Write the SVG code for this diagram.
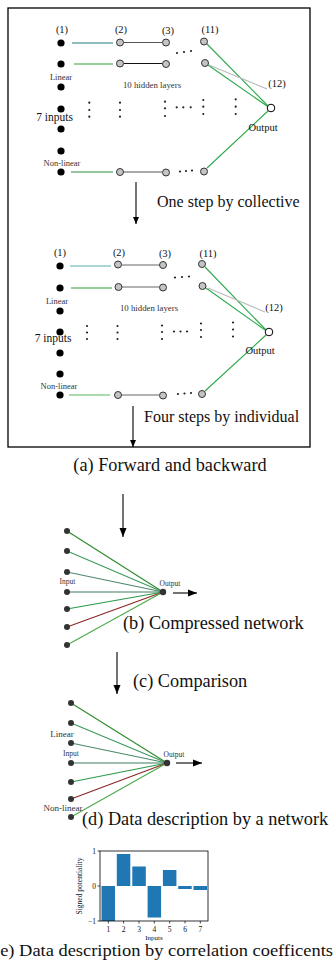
<svg xmlns="http://www.w3.org/2000/svg" width="334" height="962" viewBox="0 0 334 962">
<defs>
<style>
text{font-family:"Liberation Serif","Times New Roman",serif;fill:#111}
.in{fill:#000}
.hid{fill:#c4c4c4;stroke:#333;stroke-width:1}
.out{fill:#fff;stroke:#000;stroke-width:1}
.dn{fill:#333}
.dot{fill:#222}
.ln{fill:none;stroke-width:1.1}
.arr{stroke:#000;stroke-width:1.1;fill:none}
.lbl{font-size:10.5px;text-anchor:middle}
.sm{font-size:8.5px;text-anchor:middle;fill:#333}
.hl{font-size:8.8px;text-anchor:middle;fill:#333}
.cap{font-size:18.3px}
.bar{fill:#1f77b4}
</style>
<marker id="ah" markerWidth="8" markerHeight="8" refX="7" refY="4" orient="auto" markerUnits="userSpaceOnUse">
<path d="M0,1 L7,4 L0,7 Z" fill="#000"/>
</marker>
<marker id="ah2" markerWidth="10" markerHeight="8" refX="9" refY="4" orient="auto" markerUnits="userSpaceOnUse">
<path d="M0,0.5 L9,4 L0,7.5 Z" fill="#000"/>
</marker>
</defs>

<rect x="8" y="8" width="302" height="439" fill="none" stroke="#000" stroke-width="1.3"/>

<g id="connectors">
<!-- panel 1 -->
<line class="ln" x1="72" y1="43" x2="113" y2="43" stroke="#1f7f7f"/>
<line class="ln" x1="124" y1="42.5" x2="162" y2="42.5" stroke="#555"/>
<line class="ln" x1="74" y1="64" x2="113" y2="64" stroke="#33a033"/>
<line class="ln" x1="124" y1="63.5" x2="162" y2="63.5" stroke="#111"/>
<line class="ln" x1="71" y1="172" x2="113" y2="172" stroke="#2a8a3a"/>
<line class="ln" x1="124" y1="172" x2="162" y2="172" stroke="#555"/>
<line class="ln" x1="207" y1="44" x2="268" y2="106" stroke="#2aa84a"/>
<line class="ln" x1="208" y1="65" x2="267" y2="106" stroke="#2aa84a"/>
<line class="ln" x1="209" y1="65" x2="267" y2="89" stroke="#bbb"/>
<line class="ln" x1="207" y1="168" x2="268" y2="111" stroke="#2aa84a"/>
<line class="arr" x1="136" y1="182" x2="136" y2="224" marker-end="url(#ah)"/>
<!-- panel 2 -->
<line class="ln" x1="70" y1="266" x2="111" y2="266" stroke="#5aacac"/>
<line class="ln" x1="122" y1="265" x2="159" y2="265" stroke="#666"/>
<line class="ln" x1="71" y1="288" x2="112" y2="288" stroke="#2e9e2e"/>
<line class="ln" x1="122" y1="287" x2="159" y2="287" stroke="#666"/>
<line class="ln" x1="69" y1="395" x2="110" y2="395" stroke="#5ab85a"/>
<line class="ln" x1="122" y1="395" x2="159" y2="395" stroke="#666"/>
<line class="ln" x1="205" y1="267" x2="266" y2="330" stroke="#2aa84a"/>
<line class="ln" x1="206" y1="288" x2="265" y2="330" stroke="#2aa84a"/>
<line class="ln" x1="208" y1="288" x2="265" y2="312" stroke="#bbb"/>
<line class="ln" x1="205" y1="391" x2="266" y2="335" stroke="#2aa84a"/>
<line class="arr" x1="133" y1="406" x2="133" y2="447" marker-end="url(#ah)"/>
<!-- arrow to (b) -->
<line class="arr" x1="123" y1="494" x2="123" y2="537" marker-end="url(#ah2)"/>
<!-- network b -->
<line class="ln" x1="67" y1="531" x2="163" y2="592" stroke="#2a8a2a"/>
<line class="ln" x1="67" y1="551" x2="163" y2="592" stroke="#3a9a5a"/>
<line class="ln" x1="67" y1="572" x2="163" y2="592" stroke="#4a8a6a" stroke-width="1.4"/>
<line class="ln" x1="67" y1="592" x2="163" y2="592" stroke="#3d7d5d" stroke-width="2"/>
<line class="ln" x1="67" y1="609" x2="163" y2="592" stroke="#2a9a4a" stroke-width="1.4"/>
<line class="ln" x1="67" y1="627" x2="163" y2="592" stroke="#8b2525" stroke-width="1.3"/>
<line class="ln" x1="67" y1="645" x2="163" y2="592" stroke="#4aaa4a"/>
<line class="arr" x1="173" y1="593" x2="197" y2="593" marker-end="url(#ah2)"/>
<!-- arrow to (d) -->
<line class="arr" x1="117" y1="652" x2="117" y2="694" marker-end="url(#ah2)"/>
<!-- network d -->
<line class="ln" x1="71" y1="703" x2="167" y2="763" stroke="#2a8a2a"/>
<line class="ln" x1="71" y1="723" x2="167" y2="763" stroke="#3a9a5a"/>
<line class="ln" x1="71" y1="743" x2="167" y2="763" stroke="#4a8a6a" stroke-width="1.4"/>
<line class="ln" x1="71" y1="763" x2="167" y2="763" stroke="#3d7d5d" stroke-width="2"/>
<line class="ln" x1="71" y1="782" x2="167" y2="763" stroke="#2a9a4a" stroke-width="1.4"/>
<line class="ln" x1="71" y1="799" x2="167" y2="763" stroke="#8b2525" stroke-width="1.3"/>
<line class="ln" x1="71" y1="817" x2="167" y2="763" stroke="#4aaa4a"/>
<line class="arr" x1="176" y1="763" x2="202" y2="763" marker-end="url(#ah2)"/>
</g>

<g id="panel1-nodes">
<g id="p1-inputs">
<circle class="in" cx="61" cy="43" r="3.6"/>
<circle class="in" cx="61" cy="64" r="3.6"/>
<circle class="in" cx="61" cy="87" r="3.6"/>
<circle class="in" cx="61" cy="109" r="3.6"/>
<circle class="in" cx="61" cy="129" r="3.6"/>
<circle class="in" cx="61" cy="151" r="3.6"/>
<circle class="in" cx="61" cy="172" r="3.6"/>
</g>
<g id="p1-hidden">
<circle class="hid" cx="120" cy="42.5" r="3.5"/>
<circle class="hid" cx="120" cy="63.5" r="3.5"/>
<circle class="hid" cx="120" cy="172" r="3.5"/>
<circle class="hid" cx="166" cy="42.5" r="3.5"/>
<circle class="hid" cx="166" cy="64" r="3.5"/>
<circle class="hid" cx="166" cy="172.5" r="3.5"/>
<circle class="hid" cx="204" cy="41.5" r="3.5"/>
<circle class="hid" cx="205" cy="63" r="3.5"/>
<circle class="hid" cx="204" cy="171.5" r="3.5"/>
</g>
<g id="p1-output"><circle class="out" cx="271" cy="108" r="3.8"/></g>
<g id="p1-dots">
<circle class="dot" cx="177" cy="53" r="1.1"/><circle class="dot" cx="184" cy="52" r="1.1"/><circle class="dot" cx="191" cy="51" r="1.1"/>
<circle class="dot" cx="180" cy="171.5" r="1.1"/><circle class="dot" cx="186" cy="171" r="1.1"/><circle class="dot" cx="192" cy="170.5" r="1.1"/>
<circle class="dot" cx="89.3" cy="102.7" r="1.1"/><circle class="dot" cx="89.3" cy="110" r="1.1"/><circle class="dot" cx="89.3" cy="116.7" r="1.1"/>
<circle class="dot" cx="120" cy="102.7" r="1.1"/><circle class="dot" cx="120" cy="110" r="1.1"/><circle class="dot" cx="120" cy="116.7" r="1.1"/>
<circle class="dot" cx="165" cy="101.7" r="1.1"/><circle class="dot" cx="165" cy="108.3" r="1.1"/><circle class="dot" cx="165" cy="116" r="1.1"/>
<circle class="dot" cx="176.7" cy="107.3" r="1.1"/><circle class="dot" cx="183.3" cy="107.3" r="1.1"/><circle class="dot" cx="190.7" cy="107.3" r="1.1"/>
<circle class="dot" cx="203.3" cy="100" r="1.1"/><circle class="dot" cx="203.3" cy="106.7" r="1.1"/><circle class="dot" cx="203.3" cy="114" r="1.1"/>
<circle class="dot" cx="235.7" cy="99.3" r="1.1"/><circle class="dot" cx="235.7" cy="106.7" r="1.1"/><circle class="dot" cx="235.7" cy="114" r="1.1"/>
</g>
<g id="p1-labels">
<text class="lbl" x="62" y="33">(1)</text>
<text class="lbl" x="121" y="33">(2)</text>
<text class="lbl" x="168" y="34">(3)</text>
<text class="lbl" x="210" y="33">(11)</text>
<text class="lbl" x="277" y="87">(12)</text>
<text class="lbl" x="263" y="131">Output</text>
<text class="sm" x="61" y="80">Linear</text>
<text class="sm" x="62" y="166">Non-linear</text>
<text class="hl" x="152" y="88">10 hidden layers</text>
<text x="54.5" y="120.5" style="font-size:11.5px;text-anchor:middle">7 inputs</text>
<text x="157" y="207" style="font-size:16px">One step by collective</text>
</g>
</g>

<g id="panel2-nodes">
<g id="p2-inputs">
<circle class="in" cx="60" cy="266" r="3.6"/>
<circle class="in" cx="60" cy="288" r="3.6"/>
<circle class="in" cx="60" cy="311" r="3.6"/>
<circle class="in" cx="60" cy="332" r="3.6"/>
<circle class="in" cx="60" cy="353" r="3.6"/>
<circle class="in" cx="60" cy="374" r="3.6"/>
<circle class="in" cx="60" cy="395" r="3.6"/>
</g>
<g id="p2-hidden">
<circle class="hid" cx="118" cy="264.5" r="3.5"/>
<circle class="hid" cx="118.5" cy="287" r="3.5"/>
<circle class="hid" cx="118" cy="395" r="3.5"/>
<circle class="hid" cx="163" cy="265" r="3.5"/>
<circle class="hid" cx="163" cy="287.5" r="3.5"/>
<circle class="hid" cx="163" cy="395.5" r="3.5"/>
<circle class="hid" cx="202" cy="264" r="3.5"/>
<circle class="hid" cx="202.5" cy="286" r="3.5"/>
<circle class="hid" cx="202" cy="394" r="3.5"/>
</g>
<g id="p2-output"><circle class="out" cx="269" cy="332" r="3.8"/></g>
<g id="p2-dots">
<circle class="dot" cx="175" cy="277.5" r="1.1"/><circle class="dot" cx="182" cy="277" r="1.1"/><circle class="dot" cx="189" cy="276.5" r="1.1"/>
<circle class="dot" cx="178" cy="394" r="1.1"/><circle class="dot" cx="184.5" cy="393.5" r="1.1"/><circle class="dot" cx="191" cy="393" r="1.1"/>
<circle class="dot" cx="87" cy="326" r="1.1"/><circle class="dot" cx="87" cy="332.5" r="1.1"/><circle class="dot" cx="87" cy="339" r="1.1"/>
<circle class="dot" cx="117.5" cy="326" r="1.1"/><circle class="dot" cx="117.5" cy="332.5" r="1.1"/><circle class="dot" cx="117.5" cy="339" r="1.1"/>
<circle class="dot" cx="162" cy="325.5" r="1.1"/><circle class="dot" cx="162" cy="332" r="1.1"/><circle class="dot" cx="162" cy="339" r="1.1"/>
<circle class="dot" cx="174" cy="331.5" r="1.1"/><circle class="dot" cx="180.5" cy="331.5" r="1.1"/><circle class="dot" cx="187" cy="331.5" r="1.1"/>
<circle class="dot" cx="201" cy="323.5" r="1.1"/><circle class="dot" cx="201" cy="330" r="1.1"/><circle class="dot" cx="201" cy="337" r="1.1"/>
<circle class="dot" cx="233" cy="322.5" r="1.1"/><circle class="dot" cx="233" cy="329.5" r="1.1"/><circle class="dot" cx="233" cy="336.5" r="1.1"/>
</g>
<g id="p2-labels">
<text class="lbl" x="60" y="256">(1)</text>
<text class="lbl" x="119" y="256">(2)</text>
<text class="lbl" x="165" y="257">(3)</text>
<text class="lbl" x="208" y="257">(11)</text>
<text class="lbl" x="274" y="311">(12)</text>
<text class="lbl" x="260" y="354">Output</text>
<text class="sm" x="57" y="303.5">Linear</text>
<text class="sm" x="59" y="389">Non-linear</text>
<text class="hl" x="149" y="311">10 hidden layers</text>
<text x="53" y="342" style="font-size:11.5px;text-anchor:middle">7 inputs</text>
<text x="144" y="422" style="font-size:16px">Four steps by individual</text>
</g>
</g>

<text class="cap" x="170" y="471" style="text-anchor:middle">(a) Forward and backward</text>

<g id="net-b">
<circle class="dn" cx="67" cy="531" r="3"/>
<circle class="dn" cx="67" cy="551" r="3"/>
<circle class="dn" cx="67" cy="572" r="3"/>
<circle class="dn" cx="67" cy="592" r="3"/>
<circle class="dn" cx="67" cy="609" r="3"/>
<circle class="dn" cx="67" cy="627" r="3"/>
<circle class="dn" cx="67" cy="645" r="3"/>
<circle class="dn" cx="163" cy="592" r="3.2"/>
<text class="sm" x="67.5" y="583.5" style="font-size:7.5px">Input</text>
<text class="sm" x="170" y="585.5" style="font-size:7.5px">Output</text>
<text class="cap" x="123" y="629">(b) Compressed network</text>
</g>

<text class="cap" x="133" y="687">(c) Comparison</text>

<g id="net-d">
<circle class="dn" cx="71" cy="703" r="3"/>
<circle class="dn" cx="71" cy="723" r="3"/>
<circle class="dn" cx="71" cy="743" r="3"/>
<circle class="dn" cx="71" cy="763" r="3"/>
<circle class="dn" cx="71" cy="782" r="3"/>
<circle class="dn" cx="71" cy="799" r="3"/>
<circle class="dn" cx="71" cy="817" r="3"/>
<circle class="dn" cx="167" cy="763" r="3.2"/>
<text class="sm" x="62" y="737" style="font-size:9px">Linear</text>
<text class="sm" x="71" y="755.5" style="font-size:7.5px">Input</text>
<text class="sm" x="174" y="756.5" style="font-size:7.5px">Output</text>
<text class="sm" x="63" y="811" style="font-size:9px">Non-linear</text>
<text class="cap" x="82" y="825">(d)  Data description by a network</text>
</g>

<g id="chart-e">
<rect class="bar" x="101.5" y="886" width="13.5" height="35"/>
<rect class="bar" x="116.8" y="854" width="13.5" height="32"/>
<rect class="bar" x="132.3" y="866.5" width="13.5" height="19.5"/>
<rect class="bar" x="147.6" y="886" width="13.5" height="31.5"/>
<rect class="bar" x="162.9" y="870" width="13.5" height="16"/>
<rect class="bar" x="178.2" y="886" width="13.5" height="3"/>
<rect class="bar" x="193.5" y="886" width="13.5" height="4"/>
<rect x="100" y="851" width="108" height="70" fill="none" stroke="#000" stroke-width="0.8"/>
<g stroke="#000" stroke-width="0.7">
<line x1="97.5" y1="851" x2="100" y2="851"/>
<line x1="97.5" y1="886" x2="100" y2="886"/>
<line x1="97.5" y1="921" x2="100" y2="921"/>
<line x1="108.3" y1="921" x2="108.3" y2="923.5"/>
<line x1="123.6" y1="921" x2="123.6" y2="923.5"/>
<line x1="139" y1="921" x2="139" y2="923.5"/>
<line x1="154.3" y1="921" x2="154.3" y2="923.5"/>
<line x1="169.7" y1="921" x2="169.7" y2="923.5"/>
<line x1="185" y1="921" x2="185" y2="923.5"/>
<line x1="200.3" y1="921" x2="200.3" y2="923.5"/>
</g>
<g style="font-size:7.5px;text-anchor:end">
<text x="96" y="853.5">1</text>
<text x="96" y="888.5">0</text>
<text x="96" y="923.5">−1</text>
</g>
<g style="font-size:7.5px;text-anchor:middle">
<text x="108.3" y="931.5">1</text>
<text x="123.6" y="931.5">2</text>
<text x="139" y="931.5">3</text>
<text x="154.3" y="931.5">4</text>
<text x="169.7" y="931.5">5</text>
<text x="185" y="931.5">6</text>
<text x="200.3" y="931.5">7</text>
<text x="154" y="939.5" style="font-size:7px">Inputs</text>
<text x="0" y="0" transform="translate(82,886) rotate(-90)">Signed potentiality</text>
</g>
<text class="cap" x="-6" y="956" style="font-size:17.5px" textLength="339" lengthAdjust="spacingAndGlyphs">(e)  Data description by correlation coefficents</text>
</g>
</svg>
